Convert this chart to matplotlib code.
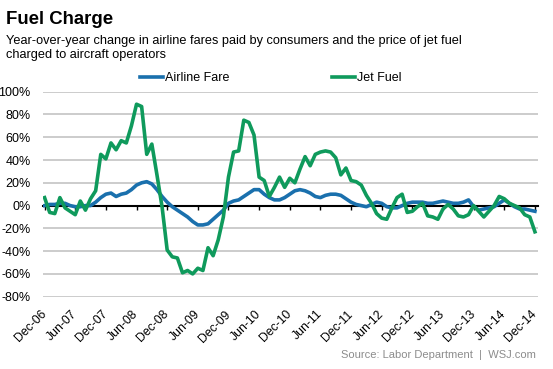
import numpy as np
import matplotlib.pyplot as plt
from matplotlib.lines import Line2D

plt.rcParams['font.family'] = ['Liberation Sans', 'DejaVu Sans']

# monthly, Dec-06 .. Dec-14, year-over-year % change
airline_fare = [0, 1, 1, 2, 2, 0, -1, -1, 0, 0, 3, 7, 10, 11, 8, 10, 11, 14, 18, 20,
                21, 19, 14, 8, 3, -1, -4, -7, -10, -14, -17, -17, -16, -12, -8, -4,
                2, 4, 5, 8, 11, 14, 14, 10, 7, 5, 5, 7, 10, 13, 14, 13, 11, 8, 7, 9,
                10, 10, 9, 6, 3, 1, 0, -1, 1, 3, 2, -1, -2, -2, 0, 2, 3, 3, 3, 2, 2,
                3, 4, 3, 2, 2, 3, 5, -1, -4, -3, -2, -1, 2, 5, 2, -1, -3, -3, -4, -5]
jet_fuel = [7, -6, -7, 7, -2, -5, -8, 4, -4, 6, 13, 45, 41, 55, 49, 57, 55, 70, 89, 87,
            45, 54, 27, -1, -39, -45, -46, -59, -57, -60, -55, -57, -37, -44, -30, -10,
            25, 47, 48, 75, 73, 62, 25, 22, 8, 16, 25, 16, 24, 20, 32, 43, 35, 45, 47, 48,
            47, 42, 27, 33, 22, 21, 18, 9, 2, -7, -11, -12, -2, 7, 10, -6, -5, -1, 2, -9,
            -10, -12, -3, 1, -3, -9, -10, -8, 0, -5, -10, -5, 0, 8, 6, 2, 0, -2, -8, -10, -23]
tick_labels = ['Dec-06', 'Jun-07', 'Dec-07', 'Jun-08', 'Dec-08', 'Jun-09', 'Dec-09',
               'Jun-10', 'Dec-10', 'Jun-11', 'Dec-11', 'Jun-12', 'Dec-12', 'Jun-13',
               'Dec-13', 'Jun-14', 'Dec-14']
y_ticks = [-80, -60, -40, -20, 0, 20, 40, 60, 80, 100]

blue = '#1a70ad'
green = '#0f9a5c'

W, H = 553, 369
fig = plt.figure(figsize=(W / 100, H / 100), dpi=100)
ax = fig.add_axes([43.3 / W, 1 - 296.7 / H, (538 - 43.3) / W, (296.7 - 91.7) / H])

months = np.arange(len(jet_fuel))
ax.plot(months, airline_fare, color=blue, lw=2.6, zorder=3, solid_joinstyle='round')
ax.plot(months, jet_fuel, color=green, lw=2.6, zorder=4, solid_joinstyle='round')

ax.set_xlim(-0.25, 96.6)
ax.set_ylim(-80, 100)
ax.set_yticks(y_ticks)
ax.set_yticklabels([f'{v}%' for v in y_ticks])
ax.set_xticks(np.arange(0, len(jet_fuel), 6))
ax.set_xticklabels(tick_labels)

ax.yaxis.grid(True, color='#c8c8c8', lw=1.3)
ax.set_axisbelow(True)
for s in ['top', 'right', 'left']:
    ax.spines[s].set_visible(False)
ax.spines['bottom'].set_position(('data', 0))
ax.spines['bottom'].set_color('black')
ax.spines['bottom'].set_linewidth(1.5)
ax.spines['bottom'].set_zorder(2.5)

ax.tick_params(axis='y', length=0, pad=9, labelsize=9)
ax.tick_params(axis='x', direction='out', length=3, width=1, pad=74, labelsize=8.8)
plt.setp(ax.get_xticklabels(), rotation=45, ha='right', va='center',
         rotation_mode='anchor')

fig.text(6.5 / W, 1 - 24 / H, 'Fuel Charge', fontsize=13.4, fontweight='bold',
         va='baseline', ha='left')
fig.text(6.5 / W, 1 - 44.3 / H,
         'Year-over-year change in airline fares paid by consumers and the price of jet fuel',
         fontsize=9.2, va='baseline', ha='left')
fig.text(6.5 / W, 1 - 58.3 / H, 'charged to aircraft operators',
         fontsize=9.2, va='baseline', ha='left')

# legend
for x0, col, lab in [(140, blue, 'Airline Fare'), (332, green, 'Jet Fuel')]:
    fig.add_artist(Line2D([x0 / W, (x0 + 23) / W], [1 - 76.7 / H] * 2, color=col, lw=2.6))
    fig.text((x0 + 25) / W, 1 - 81 / H, lab, fontsize=9, va='baseline', ha='left')

fig.text(535.7 / W, 1 - 357.5 / H, 'Source: Labor Department  |  WSJ.com',
         fontsize=8, color='#8c8c8c', va='baseline', ha='right')

fig.savefig('out.png', dpi=100)
